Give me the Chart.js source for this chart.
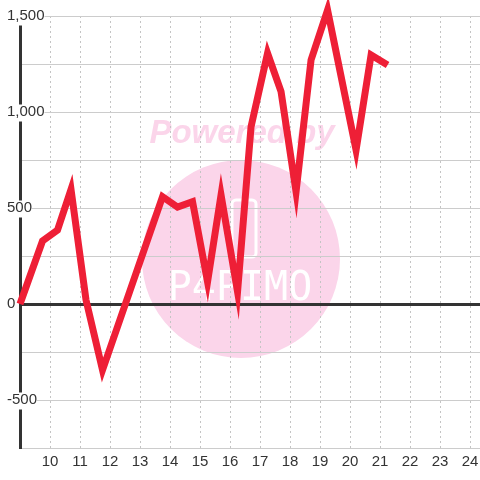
<!DOCTYPE html>
<html>
<head>
<meta charset="utf-8">
<style>
  html, body { margin: 0; padding: 0; background: #fff; }
  canvas { display: block; }
</style>
<script src="https://cdn.jsdelivr.net/npm/chart.js@4"></script>
</head>
<body>
<canvas id="chart" width="480" height="480"></canvas>
<script>
// valores
const X_VALUES = [9, 9.75, 10.25, 10.7, 11.2, 11.75, 13.75, 14.25, 14.75, 15.25, 15.7, 16.25, 16.7, 17.25, 17.7, 18.2, 18.7, 19.25, 20.2, 20.7, 21.25];
const Y_VALUES = [0, 328, 385, 597, 21, -344, 559, 505, 533, 116, 568, 64, 923, 1306, 1106, 585, 1271, 1531, 802, 1297, 1245];
const X_TICKS = [10, 11, 12, 13, 14, 15, 16, 17, 18, 19, 20, 21, 22, 23, 24];
const Y_TICKS = [-750, -500, -250, 0, 250, 500, 750, 1000, 1250, 1500];
const Y_LABELED = [-500, 0, 500, 1000, 1500];

const FONT = "'Liberation Sans', Arial, sans-serif";
const TEXT = '#333';

// marca de agua rosa detrás de la rejilla
const watermark = {
  id: 'watermark',
  beforeDraw(chart) {
    const ctx = chart.ctx;
    ctx.save();
    ctx.fillStyle = '#fbd5ea';
    ctx.beginPath();
    ctx.arc(241, 259, 99, 0, Math.PI * 2);
    ctx.fill();

    ctx.font = `italic bold 33px ${FONT}`;
    ctx.textAlign = 'center';
    ctx.textBaseline = 'middle';
    ctx.fillText('Powered by', 242, 134);

    ctx.strokeStyle = '#fff';
    ctx.lineWidth = 3;
    ctx.beginPath();
    ctx.roundRect(232, 200, 24, 57, 4);
    ctx.stroke();

    ctx.fillStyle = '#fff';
    ctx.font = `40px 'DejaVu Sans Mono', monospace`;
    ctx.fillText('P4PIMO', 240, 290);
    ctx.restore();
  }
};

new Chart(document.getElementById('chart'), {
  type: 'line',
  data: {
    datasets: [{
      data: X_VALUES.map((x, i) => ({ x, y: Y_VALUES[i] })),
      borderColor: '#ee1f36',
      borderWidth: 7,
      borderCapStyle: 'butt',
      borderJoinStyle: 'miter',
      tension: 0,
      pointRadius: 0,
      fill: false,
      clip: false,
    }],
  },
  options: {
    responsive: false,
    animation: false,
    layout: { padding: { top: 16, left: 7, right: 0, bottom: 0 } },
    plugins: { legend: { display: false }, tooltip: { enabled: false } },
    scales: {
      x: {
        type: 'linear',
        min: 9,
        max: 24.33,
        afterBuildTicks(s) { s.ticks = X_TICKS.map((v) => ({ value: v })); },
        afterFit(s) { s.height = 32; s.paddingLeft = 0; s.paddingRight = 0; },
        grid: { color: '#c4c4c4', lineWidth: 1, drawTicks: false },
        border: { color: '#ccc', width: 1, dash: [2, 3] },
        ticks: {
          padding: 5,
          maxRotation: 0,
          autoSkip: false,
          color: TEXT,
          font: { family: FONT, size: 15 },
        },
      },
      y: {
        min: -750,
        max: 1500,
        afterBuildTicks(s) { s.ticks = Y_TICKS.map((v) => ({ value: v })); },
        afterFit(s) { s.width = 13; s.paddingTop = 0; s.paddingBottom = 0; },
        grid: {
          drawTicks: false,
          color: (c) => (c.tick && c.tick.value === 0 ? '#333' : '#ccc'),
          lineWidth: (c) => (c.tick && c.tick.value === 0 ? 3 : 1),
        },
        border: { color: '#333', width: 3 },
        ticks: {
          mirror: true,
          crossAlign: 'near',
          padding: -13,
          color: TEXT,
          font: { family: FONT, size: 15, lineHeight: 1 },
          showLabelBackdrop: (c) => Y_LABELED.includes(c.tick.value),
          backdropColor: '#fff',
          backdropPadding: { top: 0, bottom: 2, left: 0, right: 0 },
          callback: (v) => (Y_LABELED.includes(v) ? v.toLocaleString('en-US') : ''),
        },
      },
    },
  },
  plugins: [watermark],
});
</script>
</body>
</html>
